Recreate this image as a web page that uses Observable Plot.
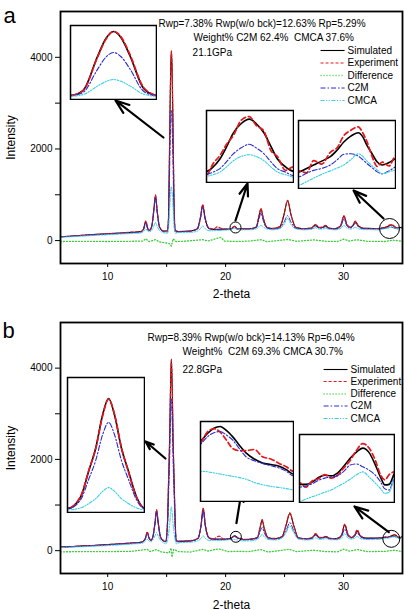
<!DOCTYPE html>
<html><head><meta charset="utf-8">
<script src="https://cdn.jsdelivr.net/npm/d3@7"></script>
<script src="https://cdn.jsdelivr.net/npm/@observablehq/plot@0.6"></script>
<style>
body{margin:0;background:#fff;}
#root{position:relative;width:404px;height:610px;overflow:hidden;background:#fff;}
.panel{position:absolute;left:0;width:404px;height:305px;}
.inset{position:absolute;overflow:hidden;}
.panel svg{display:block;}
svg text{white-space:pre;}
</style></head>
<body><div id="root"></div>
<script>
// ---------- Panel a (21.1 GPa) ----------
const thetaA = [6.0,7.0,8.0,9.0,10.0,11.0,12.0,12.8,13.05,13.23,13.4,13.55,13.75,13.92,14.06,14.2,14.4,14.7,15.06,15.16,15.27,15.34,15.40,15.46,15.53,15.64,15.74,16.0,17.0,17.6,17.88,18.06,18.25,18.6,19.0,19.3,19.7,20.2,20.43,20.48,20.53,20.58,20.63,20.69,20.75,20.8,20.86,20.91,20.96,21.02,21.08,21.5,22.2,22.6,22.82,23.0,23.18,23.5,24.0,24.6,24.95,25.26,25.55,25.95,26.6,27.3,27.6,27.95,28.25,28.47,28.75,29.3,29.75,30.03,30.3,30.6,30.8,31.0,31.25,31.7,32.5,33.0,33.15,33.28,33.43,33.59,33.72,33.84,33.97,34.11,34.19,34.27,34.37,34.46,34.55,34.68,34.8,35.0];
const simA = [85,100,118,135,148,165,180,195,260,413,260,225,330,680,978,640,300,210,210,520,2530,3700,4130,3750,2650,620,215,200,210,260,520,775,500,265,245,248,250,250,250,255,264,278,294,305,310,305,294,279,264,255,250,255,265,300,520,690,500,290,262,300,560,870,560,290,258,275,340,280,290,326,275,262,320,530,340,290,330,413,320,270,265,260,267,274,282,291,305,321,333,340,332,314,296,280,274,279,287,292];
const expA = [86,97,121,132,151,162,183,192,255,430,270,222,325,690,1000,650,295,215,215,500,2480,3650,4140,3800,2720,680,230,195,215,250,530,790,510,270,255,300,260,248,246,259,268,281,291,309,313,303,296,274,267,251,255,258,262,295,530,700,505,285,265,305,570,880,560,285,262,280,355,290,300,335,270,260,325,545,345,285,335,425,330,268,262,262,258,283,276,300,310,334,345,352,340,322,290,271,280,272,292,290];
const c2mA = [80,95,112,128,140,156,170,184,250,395,250,215,315,650,940,610,285,200,185,390,1760,2560,2840,2580,1830,450,185,190,200,250,495,740,475,255,235,238,240,242,246,249,253,261,270,277,281,277,270,261,253,249,245,245,252,285,460,600,445,275,250,275,400,543,400,270,248,262,320,268,275,305,262,250,300,470,315,275,315,380,300,258,252,250,257,263,267,274,285,296,297,292,285,277,268,260,256,262,270,275];
const cmcaA = [70,85,100,115,128,142,155,168,200,255,205,190,230,320,400,310,220,175,160,260,760,1060,1180,1070,790,280,160,175,180,205,265,320,265,215,215,220,222,232,244,246,249,255,262,267,269,267,262,255,249,246,243,235,238,255,300,330,300,250,235,260,350,478,350,255,235,245,280,248,250,268,245,235,265,330,270,250,265,290,260,240,238,233,240,247,255,262,268,274,285,297,292,282,272,264,256,260,264,268];
const diffThetaA = [6,8,10,12,13.0,13.23,13.5,14.06,14.4,15.2,15.4,15.55,15.8,16.5,18.06,18.5,19.3,19.6,19.9,21,22,23,23.5,25.3,26,27.5,28.5,29.5,30.0,30.5,31.1,32,33.5,34.2,35];
const diffA = [-20,-15,-20,-15,-10,40,-20,20,-30,-60,-120,40,-20,-15,20,-10,50,70,-10,-20,-10,20,-25,25,-15,15,-15,-20,30,-10,20,-15,-20,10,-15];
const notesA = ["Rwp=7.38% Rwp(w/o bck)=12.63% Rp=5.29%", "Weight% C2M 62.4%  CMCA 37.6%", "21.1GPa"];

// ---------- Panel b (22.8 GPa) ----------
const thetaB = [6.0,7.0,8.0,9.0,10.0,11.0,12.0,12.9,13.18,13.36,13.53,13.68,13.86,14.02,14.15,14.29,14.5,14.75,14.92,15.07,15.17,15.25,15.33,15.40,15.47,15.55,15.63,15.73,15.82,16.1,17.0,17.65,17.92,18.1,18.28,18.6,19.0,19.45,19.8,20.3,20.6,20.67,20.73,20.79,20.85,20.91,20.97,21.04,21.12,21.2,21.28,21.36,21.43,21.5,22.0,22.7,22.92,23.1,23.28,23.6,24.2,24.8,25.13,25.45,25.77,26.15,26.8,27.35,27.63,27.95,28.25,28.5,28.8,29.4,29.82,30.1,30.38,30.7,30.95,31.16,31.4,31.9,32.6,33.1,33.22,33.34,33.46,33.58,33.7,33.82,33.94,34.06,34.18,34.3,34.42,34.54,34.64,34.72,34.8,34.9,35.0];
const simB = [78,92,105,118,132,150,168,190,260,400,265,230,340,620,880,600,290,215,200,600,1580,2400,3600,4200,3600,2400,1580,600,220,205,215,270,560,925,560,280,255,255,252,262,299,314,323,326,319,308,294,279,268,261,258,255,249,241,250,290,500,670,480,290,262,310,560,815,560,290,260,285,362,285,285,310,272,265,330,565,350,290,340,435,330,275,275,280,280,284,292,296,295,300,312,326,337,344,336,314,292,279,280,299,305];
const expB = [80,90,108,116,135,148,170,188,255,415,270,228,335,640,900,610,285,218,205,620,1600,2380,3560,4180,3620,2420,1560,580,215,210,220,265,570,935,575,285,260,320,262,256,296,317,322,316,302,287,283,283,285,272,268,260,254,246,248,285,510,680,490,285,268,315,570,830,555,285,265,290,375,290,290,318,268,262,335,585,360,288,345,460,335,272,272,283,275,286,290,297,291,296,309,322,340,352,344,322,296,288,297,302,300];
const c2mB = [74,87,100,112,126,143,160,181,250,380,255,220,330,600,855,580,280,205,190,500,1280,1950,2880,3330,2880,1950,1280,500,195,195,205,260,540,880,530,270,245,245,243,254,294,308,315,317,311,302,288,272,265,260,256,252,246,238,240,275,420,510,395,265,250,290,440,615,440,275,250,270,340,272,275,295,260,252,310,470,320,275,320,400,310,262,262,275,277,281,287,291,293,295,303,314,316,311,305,296,284,272,270,293,298];
const cmcaB = [66,78,88,100,112,128,144,163,200,250,205,195,250,330,400,320,225,170,150,220,380,560,820,960,820,560,380,220,150,175,185,215,270,326,270,225,222,225,225,240,246,245,243,241,239,237,235,232,226,222,219,217,215,213,215,245,300,360,300,245,235,280,400,540,400,255,235,245,280,248,250,262,242,238,270,370,280,252,275,310,268,245,246,250,254,258,262,266,270,276,282,289,297,302,293,282,272,264,266,288,292];
const diffThetaB = [6,8,10,12,13.36,13.6,14.15,14.5,15.2,15.38,15.45,15.6,16,17,18.1,18.5,19.4,19.7,20.2,21,22,23,23.6,25.4,26,27.5,28.5,29.5,30.0,30.5,31.2,32,33.5,34.3,35];
const diffB = [-25,-20,-20,-15,30,-20,25,-25,-50,60,-140,30,-20,-30,30,-10,40,20,-20,-15,-20,25,-30,30,-20,10,-20,-25,35,-10,25,-20,-15,10,-20];
const notesB = ["Rwp=8.39% Rwp(w/o bck)=14.13% Rp=6.04%", "Weight%  C2M 69.3% CMCA 30.7%", "22.8GPa"];

// ---------- shared axis / legend values ----------
const seriesNames = ["Simulated", "Experiment", "Difference", "C2M", "CMCA"];
const xTickValues = [10, 15, 20, 25, 30];
const xTickLabeled = [10, 20, 30];
const yTickValues = [0, 1000, 2000, 3000, 4000];
const yTickLabeled = [0, 2000, 4000];
const panelLetters = ["a", "b"];

// ---------- styles / layout (data units of each panel) ----------
const FONT = '"Liberation Sans", Arial, Helvetica, sans-serif';
const STYLE = {
  Simulated:  {stroke: "#000000", strokeWidth: 1.1},
  Experiment: {stroke: "#e8161c", strokeWidth: 1.2, strokeDasharray: "3,2"},
  Difference: {stroke: "#3ccf3c", strokeWidth: 1.3, strokeDasharray: "1,2"},
  C2M:        {stroke: "#2a2ad2", strokeWidth: 1.0, strokeDasharray: "5,2,1.5,2"},
  CMCA:       {stroke: "#38cfe0", strokeWidth: 1.0, strokeDasharray: "4,1.5,1.2,1.5,1.2,1.5"}
};
const INSET_STYLE = {
  Simulated:  {stroke: "#000000", strokeWidth: 1.6},
  Experiment: {stroke: "#e8161c", strokeWidth: 1.7, strokeDasharray: "5,3"},
  C2M:        {stroke: "#2a2ad2", strokeWidth: 1.1, strokeDasharray: "5,2,1.5,2"},
  CMCA:       {stroke: "#38cfe0", strokeWidth: 1.1, strokeDasharray: "3,1.5,1.2,1.5,1.2,1.5"}
};

const layoutA = {
  top: 0, marginTop: 11, marginBottom: 42, letterDy: 11, letterDx: -51, xlabelDy: 34,
  notePos: [[14.31, 4651], [17.28, 4367], [17.2, 4018]],
  legendX: [28.05, 30.09, 30.34], legendY: [4149, 3876, 3603, 3330, 3058],
  arrows: [{x1: 14.73, y1: 2250, x2: 10.66, y2: 3058}, {x1: 20.84, y1: 439, x2: 21.86, y2: 1246}, {x1: 33.39, y1: 482, x2: 30.85, y2: 1093}],
  circles: [{x: 20.84, y: 286, r: 5.5}, {x: 33.9, y: 264, r: 10}],
  insets: [
    {box: [6.85, 14.14, 3079, 4694], x: [15.06, 15.74], y: [-45, 4500]},
    {box: [18.38, 25.76, 1268, 2839], x: [20.43, 21.08], y: [237, 320]},
    {box: [26.18, 34.41, 1137, 2621], x: [33.0, 34.8], y: [226, 365]}
  ]
};
const layoutB = {
  top: 305, marginTop: 17, marginBottom: 37, letterDy: 15, letterDx: -52, xlabelDy: 35,
  notePos: [[13.38, 4584], [16.35, 4277], [16.35, 3883]],
  legendX: [28.31, 30.34, 30.6], legendY: [3970, 3707, 3433, 3170, 2896],
  arrows: [{x1: 14.9, y1: 2020, x2: 13.21, y2: 2392}, {x1: 20.92, y1: 606, x2: 21.35, y2: 1300}, {x1: 33.84, y1: 405, x2: 30.93, y2: 968}],
  circles: [{x: 20.87, y: 304, r: 5.5}, {x: 34.05, y: 260, r: 8.5}],
  insets: [
    {box: [6.59, 13.12, 837, 3795], x: [14.92, 15.82], y: [55, 4964]},
    {box: [17.87, 25.76, 1078, 2831], x: [20.6, 21.5], y: [192, 335]},
    {box: [26.27, 34.32, 1056, 2546], x: [33.1, 34.9], y: [248, 368]}
  ]
};

const root = document.getElementById("root");

function buildPanel(letter, theta, sim, exp, c2m, cmca, diffTheta, diff, notes, L) {
  const rows = theta.map((t, i) => ({t, Simulated: sim[i], Experiment: exp[i], C2M: c2m[i], CMCA: cmca[i]}));
  const diffRows = diffTheta.map((t, i) => ({t, Difference: diff[i]}));
  const marks = [];
  for (const name of ["Simulated", "Experiment"]) marks.push(Plot.line(rows, {x: "t", y: name, curve: "monotone-x", ...STYLE[name]}));
  marks.push(Plot.line(diffRows, {x: "t", y: "Difference", ...STYLE.Difference}));
  for (const name of ["C2M", "CMCA"]) marks.push(Plot.line(rows, {x: "t", y: name, curve: "monotone-x", ...STYLE[name]}));
  // legend
  seriesNames.forEach((name, i) => {
    marks.push(Plot.link([L.legendY[i]], {x1: () => L.legendX[0], x2: () => L.legendX[1], y1: d => d, y2: d => d, ...STYLE[name]}));
    marks.push(Plot.text([name], {x: () => L.legendX[2], y: () => L.legendY[i], text: d => d, textAnchor: "start", lineAnchor: "middle", fontSize: 10, fill: "#000"}));
  });
  // refinement notes
  notes.forEach((s, i) => {
    marks.push(Plot.text([s], {x: () => L.notePos[i][0], y: () => L.notePos[i][1], text: d => d, textAnchor: "start", lineAnchor: "bottom", fontSize: 10, fill: "#000"}));
  });
  // circles and arrows
  for (const c of L.circles) marks.push(Plot.dot([c], {x: "x", y: "y", r: c.r, stroke: "#000", strokeWidth: 1, fill: "none"}));
  marks.push(Plot.arrow(L.arrows, {x1: "x1", y1: "y1", x2: "x2", y2: "y2", stroke: "#000", strokeWidth: 2.2, headLength: 10, headAngle: 40}));
  // labels
  marks.push(Plot.text([letter], {frameAnchor: "top-left", dx: L.letterDx, dy: L.letterDy, text: d => d, fontSize: 22, textAnchor: "middle", lineAnchor: "bottom", fill: "#000"}));
  marks.push(Plot.text(["Intensity"], {frameAnchor: "left", dx: -49, rotate: -90, text: d => d, fontSize: 12, textAnchor: "middle", lineAnchor: "middle", fill: "#000"}));
  marks.push(Plot.text(["2-theta"], {frameAnchor: "bottom", dy: L.xlabelDy, text: d => d, fontSize: 12, textAnchor: "middle", lineAnchor: "bottom", fill: "#000"}));
  marks.push(Plot.frame({stroke: "#000", strokeWidth: 1.8}));

  const chart = Plot.plot({
    width: 404, height: 305,
    marginLeft: 60, marginRight: 2, marginTop: L.marginTop, marginBottom: L.marginBottom,
    style: {fontFamily: FONT, fontSize: "10px", background: "white", color: "black"},
    x: {domain: [6, 35], ticks: xTickValues, tickFormat: d => xTickLabeled.includes(d) ? String(d) : "", tickSize: 4, tickPadding: 5, label: null},
    y: {domain: [-500, 5000], ticks: yTickValues, tickFormat: d => yTickLabeled.includes(d) ? String(d) : "", tickSize: 5, tickPadding: 3, label: null},
    marks
  });

  const panel = document.createElement("div");
  panel.className = "panel";
  panel.style.top = L.top + "px";
  panel.append(chart);
  root.append(panel);

  const xd = chart.scale("x"), yd = chart.scale("y");
  const sx = d3.scaleLinear(xd.domain, xd.range);
  const sy = d3.scaleLinear(yd.domain, yd.range);

  for (const ins of L.insets) {
    const left = sx(ins.box[0]), right = sx(ins.box[1]);
    const topPx = sy(ins.box[3]), bottomPx = sy(ins.box[2]);
    const w = right - left, h = bottomPx - topPx;
    const sub = rows.filter(d => d.t >= ins.x[0] - 0.5 && d.t <= ins.x[1] + 0.5);
    const imarks = [];
    for (const name of ["Simulated", "Experiment", "C2M", "CMCA"]) {
      imarks.push(Plot.line(sub, {x: "t", y: name, curve: "monotone-x", clip: true, ...INSET_STYLE[name]}));
    }
    imarks.push(Plot.frame({stroke: "#000", strokeWidth: 1.5}));
    const isvg = Plot.plot({
      width: w + 2, height: h + 2, margin: 1,
      style: {background: "white"},
      x: {domain: ins.x, axis: null},
      y: {domain: ins.y, axis: null},
      marks: imarks
    });
    const div = document.createElement("div");
    div.className = "inset";
    div.style.left = (left - 1) + "px";
    div.style.top = (topPx - 1) + "px";
    div.style.width = (w + 2) + "px";
    div.style.height = (h + 2) + "px";
    div.append(isvg);
    panel.append(div);
  }
}

buildPanel(panelLetters[0], thetaA, simA, expA, c2mA, cmcaA, diffThetaA, diffA, notesA, layoutA);
buildPanel(panelLetters[1], thetaB, simB, expB, c2mB, cmcaB, diffThetaB, diffB, notesB, layoutB);
</script>
</body></html>
